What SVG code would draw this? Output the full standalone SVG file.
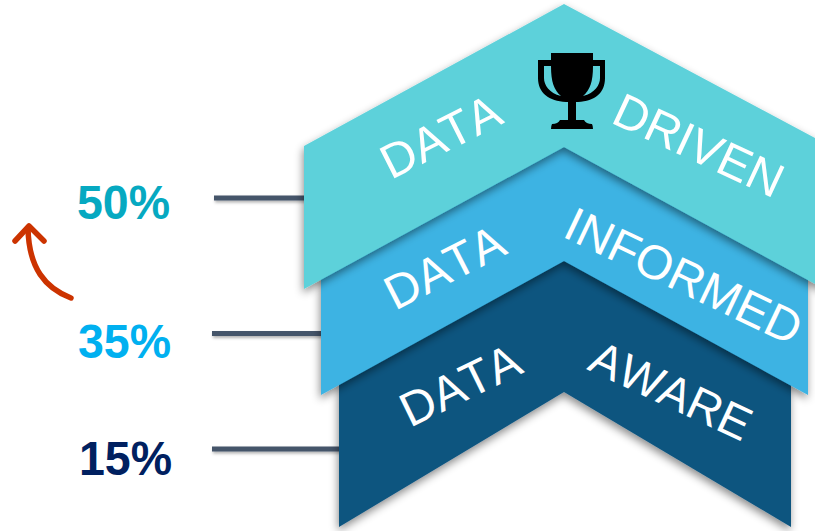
<svg xmlns="http://www.w3.org/2000/svg" width="815" height="531" viewBox="0 0 815 531">
<defs>
<filter id="sh" x="-10%" y="-10%" width="120%" height="120%"><feDropShadow dx="-1" dy="4" stdDeviation="4" flood-color="#000" flood-opacity="0.45"/></filter>
<filter id="ls" x="-10%" y="-200%" width="120%" height="500%"><feDropShadow dx="1" dy="2" stdDeviation="1.5" flood-color="#000" flood-opacity="0.3"/></filter>
</defs>
<style>
.lbl{font-family:"Liberation Sans",Arial,sans-serif;font-size:48px;fill:#fff;font-kerning:none}
.pct{font-family:"Liberation Sans",Arial,sans-serif;font-size:46.5px;font-weight:bold}
.ln{fill:#44546a;filter:url(#ls)}
</style>
<g id="connectors">
<rect class="ln" x="214" y="195.500" width="92" height="5"/>
<rect class="ln" x="212" y="331" width="111" height="5"/>
<rect class="ln" x="212" y="446.500" width="129" height="5"/>
<path d="M71 298C45 288 29 268 28 229" fill="none" stroke="#cc3300" stroke-width="5.500" stroke-linecap="round"/>
<path d="M15 241L29 226L44 241" fill="none" stroke="#cc3300" stroke-width="5.500" stroke-linecap="round" stroke-linejoin="round"/>
</g>
<g id="data-aware">
<path d="M339 378L564 255L791 378V527L564 392L339 527Z" fill="#10557f" filter="url(#sh)"/>
<text class="lbl" transform="translate(410 428) rotate(-26)">DATA</text>
<text class="lbl" style="font-size:47px" transform="translate(586 369) rotate(25)">AWARE</text>
</g>
<g id="data-informed">
<path d="M321 270L564 140L808 270V395L564 261L321 395Z" fill="#3eb3e3" filter="url(#sh)"/>
<text class="lbl" transform="translate(395 311) rotate(-27)">DATA</text>
<text class="lbl" transform="translate(561 236) rotate(25.500)">INFORMED</text>
</g>
<g id="data-driven">
<path d="M304 146L564 4L830 146V292L564 147L304 289Z" fill="#5dd1da" filter="url(#sh)"/>
<text class="lbl" transform="translate(391 180) rotate(-26.800)">DATA</text>
<text class="lbl" transform="translate(609.500 122) rotate(25)">DRIVEN</text>
<path d="M551 53H593V60H605V78C605 93 595 101 578 102H576V120H584Q586 124 592 124Q593 126 593 129H551Q551 126 552 124Q558 124 560 120H568V102H566C549 101 538 93 538 78V60H551ZM544 66V78C544 85 549 93 561 96C554 90 551 82 551 66ZM600 66H593C593 82 590 90 583 96C595 93 600 85 600 78Z" fill="#000" fill-rule="evenodd"/>
</g>
<g id="pct-50"><text class="pct" transform="translate(77 218.500) scale(1 1.050)" fill="#06a9c1">50%</text></g>
<g id="pct-35"><text class="pct" transform="translate(78 358) scale(1 1.050)" fill="#00b0f0">35%</text></g>
<g id="pct-15"><text class="pct" transform="translate(79 474.500) scale(1 1.050)" fill="#002060">15%</text></g>
</svg>
